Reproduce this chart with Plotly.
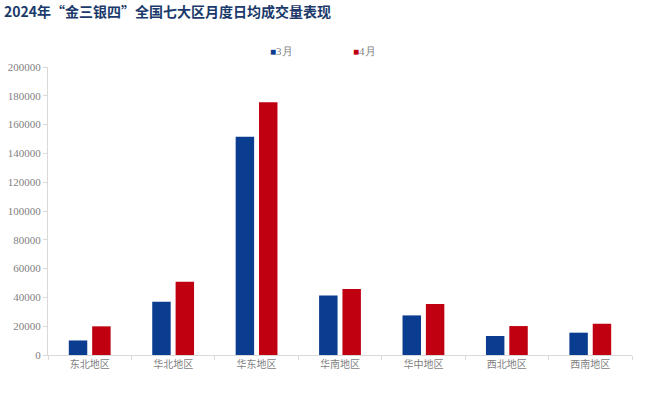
import plotly.graph_objects as go

categories = ["东北地区", "华北地区", "华东地区", "华南地区", "华中地区", "西北地区", "西南地区"]
march = [10100, 37000, 151500, 41400, 27500, 13200, 15500]
april = [19900, 50900, 175500, 45800, 35400, 20100, 21700]
series_names = ["3月", "4月"]
y_ticks = list(range(0, 200001, 20000))

BLUE = "#0a3d8f"
RED = "#c00010"
AXIS = "#d9d9d9"
TICKFONT = "#7f7f7f"
SERIF = "'Liberation Serif', 'Times New Roman', 'DejaVu Serif', serif"
colors = [BLUE, RED]

fig = go.Figure()
fig.add_trace(go.Bar(x=categories, y=march, name=series_names[0], marker_color=BLUE,
                     marker_line_width=0, showlegend=False))
fig.add_trace(go.Bar(x=categories, y=april, name=series_names[1], marker_color=RED,
                     marker_line_width=0, showlegend=False))

# legend drawn as text entries: coloured square + series name
legend_x = [268, 351]
for name, col, lx in zip(series_names, colors, legend_x):
    fig.add_annotation(
        text=f"<span style='color:{col};font-size:10px'>■</span>{name}",
        xref="paper", yref="paper", x=(lx - 48) / 584, y=1.055,
        xanchor="left", yanchor="middle", showarrow=False,
        font=dict(family=SERIF, size=11, color=TICKFONT),
    )

fig.update_layout(
    width=647, height=400,
    margin=dict(l=48, r=15, t=67, b=45, autoexpand=False),
    paper_bgcolor="white", plot_bgcolor="white",
    barmode="group", bargap=0.44, bargroupgap=0.21,
    title=dict(text="<b>2024年“金三银四”全国七大区月度日均成交量表现</b>",
               x=0.006, xanchor="left", y=0.97, yanchor="middle",
               pad=dict(l=0, t=0, b=0, r=0),
               font=dict(family="Noto Sans CJK SC", size=14, color="#1b3a6b")),
)
fig.update_xaxes(
    showline=True, linecolor=AXIS, linewidth=1,
    ticks="outside", tickson="boundaries", ticklen=4, tickcolor=AXIS,
    tickfont=dict(family="Noto Sans CJK SC", size=10, color=TICKFONT),
    showgrid=False, automargin=False,
)
fig.update_yaxes(
    range=[0, 200000], tickvals=y_ticks, ticktext=[str(v) for v in y_ticks],
    showline=True, linecolor=AXIS, linewidth=1,
    ticks="outside", ticklen=4, tickcolor=AXIS,
    tickfont=dict(family=SERIF, size=11, color=TICKFONT),
    showgrid=False, zeroline=False, automargin=False,
)

fig.write_html("out.html", config={"displayModeBar": False},
               post_script="document.body.style.margin='0';")
